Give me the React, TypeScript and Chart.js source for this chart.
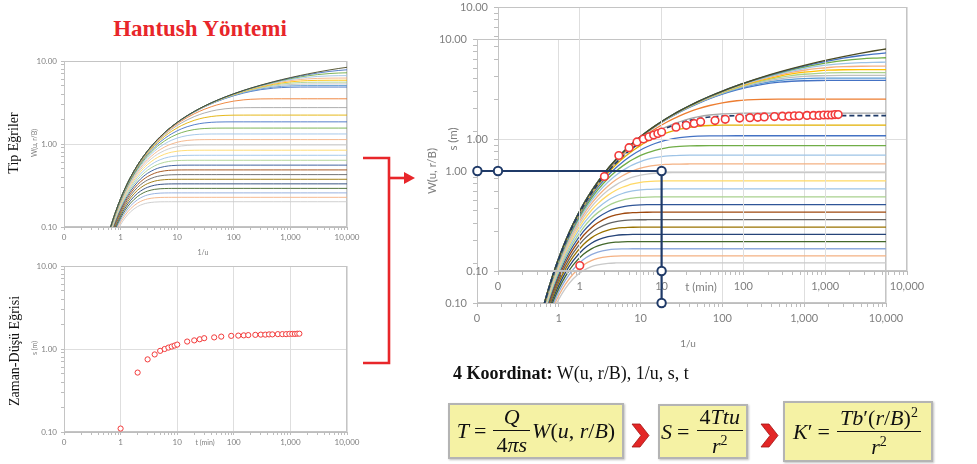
import React, { useEffect, useRef } from "react";
import { Chart, registerables } from "chart.js";

Chart.register(...registerables);
Chart.defaults.font.family = "Lato";

// ---------------- data ----------------
// 1/u sample points of the type-curve table
const invU = [0.5, 0.6, 0.7, 0.8, 0.9, 1, 1.2, 1.5, 2, 2.5, 3, 4, 5, 6, 7, 8, 10, 12, 15, 20, 25, 30, 40, 50, 70, 100, 150, 200, 300, 500, 700, 1000, 1500, 2000, 3000, 5000, 7000, 10000];
// r/B parameter of each type curve (read from the plateau levels)
const rOverB = [0.01, 0.02, 0.03, 0.04, 0.05, 0.06, 0.07, 0.08, 0.09, 0.1, 0.2, 0.3, 0.4, 0.5, 0.6, 0.7, 0.8, 0.9, 1.0, 1.1, 1.2, 1.3, 1.4, 1.5, 1.6, 1.7, 1.8, 1.9, 2.0, 2.1];
// matched (dashed) type curve
const matchedRB = 0.32;
// time-drawdown data
const timeMin = [1, 2, 3, 4, 5, 6, 7, 8, 9, 10, 15, 20, 25, 30, 45, 60, 90, 120, 150, 180, 240, 300, 360, 420, 480, 600, 720, 840, 960, 1080, 1200, 1320, 1440];
const drawdownM = [0.11, 0.52, 0.75, 0.86, 0.95, 1.0, 1.04, 1.07, 1.1, 1.13, 1.23, 1.27, 1.31, 1.35, 1.38, 1.41, 1.44, 1.45, 1.46, 1.47, 1.48, 1.49, 1.49, 1.5, 1.5, 1.51, 1.51, 1.51, 1.52, 1.52, 1.52, 1.53, 1.53];
// match point construction (t, s coordinates)
const matchT = [0.056, 0.1, 10, 10, 10];
const matchS = [0.572, 0.572, 0.572, 0.1, 0.0572];
// tick labels
const xTickValues = [0.1, 1, 10, 100, 1000, 10000];
const xTickLabels = ["0", "1", "10", "100", "1,000", "10,000"];
const yTickValues = [0.1, 1, 10];
const yTickLabels = ["0.10", "1.00", "10.00"];

// ---------------- styles ----------------
const curveColors = [
  "#4a4a22", "#4472C4", "#70AD47", "#9DC3E6", "#F4B183", "#FFC000", "#A9D18E", "#BFBFBF", "#5B9BD5", "#4472C4",
  "#ED7D31", "#A5A5A5", "#E2B000", "#4472C4", "#70AD47", "#9DC3E6", "#F4B183", "#C9C9C9", "#FFD966", "#9DC3E6",
  "#A9D18E", "#2F5597", "#9E480E", "#636363", "#997300", "#264478", "#43682B", "#8FAADC", "#F4B183", "#C9C9C9",
];
const NAVY = "#1f3a68";
const RED = "#f23a3a";
const TICK_COLOR = "#7f7f7f";

// Hantush leaky well function W(u, r/B)
function wellFunction(u: number, rb: number): number {
  const b2 = (rb * rb) / 4;
  const a = Math.log(u);
  const end = Math.log(50);
  if (a >= end) return 0;
  const n = Math.ceil((end - a) / 0.004);
  const h = (end - a) / n;
  let sum = 0;
  for (let i = 0; i <= n; i++) {
    const y = Math.exp(a + i * h);
    const f = Math.exp(-y - b2 / y);
    sum += i === 0 || i === n ? f / 2 : f;
  }
  return sum * h;
}

const typeCurves = rOverB.map((rb) => invU.map((x) => ({ x, y: wellFunction(1 / x, rb) })));
const matchedCurve = invU.map((x) => ({ x, y: wellFunction(1 / x, matchedRB) }));
const dataPoints = timeMin.map((t, i) => ({ x: t, y: drawdownM[i] }));
const matchPoints = matchT.map((t, i) => ({ x: t, y: matchS[i] }));

// ---------------- helpers ----------------
const isMajor = (v: number) => v > 0 && Math.abs(Math.log10(v) - Math.round(Math.log10(v))) < 1e-7;
const findLabel = (v: number, vals: number[], labels: string[]) => {
  for (let i = 0; i < vals.length; i++) if (Math.abs(vals[i] - v) / vals[i] < 1e-6) return labels[i];
  return "";
};
function logTicks(min: number, max: number) {
  const out: { value: number }[] = [];
  const e0 = Math.round(Math.log10(min));
  const e1 = Math.round(Math.log10(max));
  for (let e = e0; e < e1; e++) for (let k = 1; k < 10; k++) out.push({ value: k * Math.pow(10, e) });
  out.push({ value: max });
  return out;
}

function logAxis(o: { axis: "x" | "y"; min: number; max: number; vals: number[]; labels: string[]; font: number; tickLen: number; pad: number; size: number }) {
  return {
    type: "logarithmic" as const,
    position: o.axis === "x" ? "bottom" : "left",
    min: o.min,
    max: o.max,
    afterBuildTicks: (scale: any) => {
      scale.ticks = logTicks(o.min, o.max);
    },
    afterFit: (scale: any) => {
      if (o.axis === "x") scale.height = o.size;
      else scale.width = o.size;
    },
    ticks: {
      autoSkip: false,
      maxRotation: 0,
      minRotation: 0,
      padding: o.pad,
      color: TICK_COLOR,
      font: { family: "Lato", size: o.font },
      callback: (v: any) => (isMajor(Number(v)) ? findLabel(Number(v), o.vals, o.labels) : ""),
    },
    grid: {
      color: (c: any) => (c.tick && isMajor(c.tick.value) ? "#dedede" : "rgba(0,0,0,0)"),
      tickColor: "#bdbdbd",
      tickLength: o.tickLen,
      drawTicks: true,
      lineWidth: 1,
    },
    border: { color: "#bdbdbd", width: 1 },
  };
}

const framePlugin = {
  id: "frame",
  beforeDatasetsDraw(chart: any) {
    const { ctx, chartArea: a } = chart;
    ctx.save();
    ctx.strokeStyle = "#c4c4c4";
    ctx.lineWidth = 1;
    ctx.strokeRect(Math.round(a.left) + 0.5, Math.round(a.top) + 0.5, Math.round(a.width) - 1, Math.round(a.height) - 1);
    ctx.restore();
  },
};

// draws the markers of the match-point construction (dataset 0), also where they sit outside the plot area
const matchMarkerPlugin = {
  id: "matchMarkers",
  afterDatasetsDraw(chart: any) {
    const meta = chart.getDatasetMeta(0);
    const ctx = chart.ctx;
    ctx.save();
    meta.data.forEach((el: any) => {
      ctx.beginPath();
      ctx.arc(el.x, el.y, 4.2, 0, Math.PI * 2);
      ctx.fillStyle = "#ffffff";
      ctx.fill();
      ctx.lineWidth = 2;
      ctx.strokeStyle = NAVY;
      ctx.stroke();
    });
    ctx.restore();
  },
};

function baseOptions(padding: any, x: any, y: any) {
  return {
    responsive: false,
    animation: false as const,
    events: [] as any[],
    layout: { padding },
    plugins: { legend: { display: false }, tooltip: { enabled: false }, title: { display: false } },
    scales: { x, y },
  };
}

function curveDatasets(width: number) {
  return typeCurves.map((pts, i) => ({
    data: pts,
    borderColor: curveColors[i % curveColors.length],
    borderWidth: width,
    pointRadius: 0,
    fill: false,
    cubicInterpolationMode: "monotone" as const,
  }));
}

function ChartBox({ left, top, width, height, build }: { left: number; top: number; width: number; height: number; build: () => any }) {
  const ref = useRef<HTMLCanvasElement>(null);
  useEffect(() => {
    const chart = new Chart(ref.current as HTMLCanvasElement, build());
    return () => chart.destroy();
  }, []);
  return <canvas ref={ref} width={width} height={height} style={{ position: "absolute", left, top, width, height }} />;
}

function Txt({ x, y, rot = 0, style, children }: { x: number; y: number; rot?: number; style?: React.CSSProperties; children: React.ReactNode }) {
  return (
    <div
      style={{
        position: "absolute",
        left: x,
        top: y,
        transform: `translate(-50%, -50%) rotate(${rot}deg)`,
        whiteSpace: "nowrap",
        lineHeight: 1,
        ...style,
      }}
    >
      {children}
    </div>
  );
}

// ---------------- chart configs ----------------
const smallX = (size: number) => logAxis({ axis: "x", min: 0.1, max: 10000, vals: xTickValues, labels: xTickLabels, font: 8, tickLen: 3, pad: 3, size });
const smallY = (size: number) => logAxis({ axis: "y", min: 0.1, max: 10, vals: yTickValues, labels: yTickLabels, font: 8, tickLen: 3, pad: 4, size });
const bigX = (size: number) => logAxis({ axis: "x", min: 0.1, max: 10000, vals: xTickValues, labels: xTickLabels, font: 11, tickLen: 4, pad: 5, size });
const bigY = (size: number) => logAxis({ axis: "y", min: 0.1, max: 10, vals: yTickValues, labels: yTickLabels, font: 11, tickLen: 4, pad: 6, size });

const buildTypeSmall = () => ({
  type: "line",
  data: { datasets: curveDatasets(0.9) },
  options: baseOptions({ left: 0, top: 11, right: 23, bottom: 0 }, smallX(23), smallY(44)),
  plugins: [framePlugin],
});

const buildDataSmall = () => ({
  type: "line",
  data: {
    datasets: [
      {
        data: dataPoints,
        showLine: false,
        pointRadius: 2.6,
        pointBorderWidth: 1,
        pointBorderColor: RED,
        pointBackgroundColor: "#ffffff",
      },
    ],
  },
  options: baseOptions({ left: 0, top: 11, right: 23, bottom: 0 }, smallX(23), smallY(44)),
  plugins: [framePlugin],
});

const buildTypeBig = () => ({
  type: "line",
  data: {
    datasets: [
      {
        data: matchedCurve,
        borderColor: NAVY,
        borderWidth: 1.6,
        borderDash: [5, 3],
        pointRadius: 0,
        fill: false,
        cubicInterpolationMode: "monotone" as const,
      },
      ...curveDatasets(1.3),
    ],
  },
  options: baseOptions({ left: 0, top: 19, right: 54, bottom: 0 }, bigX(37), bigY(57)),
  plugins: [framePlugin],
});

const buildDataBig = () => ({
  type: "line",
  data: {
    datasets: [
      {
        data: matchPoints,
        borderColor: NAVY,
        borderWidth: 2.2,
        pointRadius: 0,
        clip: false,
        tension: 0,
      },
      {
        data: dataPoints,
        showLine: false,
        pointRadius: 3.8,
        pointBorderWidth: 1.6,
        pointBorderColor: RED,
        pointBackgroundColor: "#ffffff",
      },
    ],
  },
  options: baseOptions({ left: 0, top: 17, right: 33, bottom: 0 }, bigX(69), bigY(78)),
  plugins: [framePlugin, matchMarkerPlugin],
});

// ---------------- formula pieces ----------------
const SERIF = "'Liberation Serif', 'DejaVu Serif', serif";

function Frac({ num, den }: { num: React.ReactNode; den: React.ReactNode }) {
  return (
    <span style={{ display: "inline-flex", flexDirection: "column", alignItems: "center", margin: "0 2px" }}>
      <span style={{ lineHeight: 1, padding: "0 3px 2px" }}>{num}</span>
      <span style={{ lineHeight: 1, padding: "3px 3px 0", borderTop: "1.5px solid #111", alignSelf: "stretch", textAlign: "center" }}>{den}</span>
    </span>
  );
}

const I = ({ children }: { children: React.ReactNode }) => <i>{children}</i>;

function FormulaBox({ left, top, width, height, children }: { left: number; top: number; width: number; height: number; children: React.ReactNode }) {
  return (
    <div
      style={{
        position: "absolute",
        left,
        top,
        width,
        height,
        boxSizing: "border-box",
        background: "#f5f2a4",
        border: "2px solid #b4b4b4",
        boxShadow: "1px 1px 2px rgba(0,0,0,0.25)",
        display: "flex",
        alignItems: "center",
        justifyContent: "center",
        fontFamily: SERIF,
        fontSize: 22,
        color: "#111",
      }}
    >
      {children}
    </div>
  );
}

const Eq = () => <span style={{ margin: "0 5px" }}>=</span>;

function Chevron({ x }: { x: number }) {
  const y0 = 424;
  const y1 = 447;
  const ym = (y0 + y1) / 2;
  return (
    <polygon
      points={`${x},${y0} ${x + 8},${y0} ${x + 17},${ym} ${x + 8},${y1} ${x},${y1} ${x + 9},${ym}`}
      fill="#e32626"
      stroke="#a31414"
      strokeWidth={0.8}
    />
  );
}

export default function App() {
  const gray: React.CSSProperties = { color: TICK_COLOR, fontFamily: "Lato" };
  return (
    <div style={{ position: "fixed", left: 0, top: 0, width: 977, height: 464, background: "#fff", overflow: "hidden" }}>
      {/* left charts */}
      <ChartBox left={20} top={50} width={350} height={200} build={buildTypeSmall} />
      <ChartBox left={20} top={255} width={350} height={200} build={buildDataSmall} />
      {/* right overlapped charts */}
      <ChartBox left={420} top={20} width={520} height={320} build={buildTypeBig} />
      <ChartBox left={420} top={-10} width={520} height={350} build={buildDataBig} />

      {/* titles */}
      <Txt x={200} y={28} style={{ fontFamily: SERIF, fontWeight: 700, fontSize: 23, color: "#e8262a" }}>
        Hantush Yöntemi
      </Txt>
      <Txt x={14} y={143} rot={-90} style={{ fontFamily: SERIF, fontSize: 14, color: "#111" }}>
        Tip Eğriler
      </Txt>
      <Txt x={15} y={351} rot={-90} style={{ fontFamily: SERIF, fontSize: 14, color: "#111" }}>
        Zaman-Düşü Eğrisi
      </Txt>
      <Txt x={34} y={143} rot={-90} style={{ ...gray, fontSize: 7 }}>
        W(u, r/B)
      </Txt>
      <Txt x={203} y={252} style={{ ...gray, fontSize: 7 }}>
        1/u
      </Txt>
      <Txt x={34} y={348} rot={-90} style={{ ...gray, fontSize: 7 }}>
        s (m)
      </Txt>
      <Txt x={205} y={442} style={{ ...gray, fontSize: 7 }}>
        t (min)
      </Txt>

      <Txt x={432} y={171} rot={-90} style={{ ...gray, fontSize: 11.5 }}>
        W(u, r/B)
      </Txt>
      <Txt x={453} y={139} rot={-90} style={{ ...gray, fontSize: 11.5 }}>
        s (m)
      </Txt>
      <Txt x={701} y={287} style={{ ...gray, fontSize: 11.5 }}>
        t (min)
      </Txt>
      <Txt x={688} y={343} style={{ ...gray, fontSize: 10 }}>
        1/u
      </Txt>

      {/* bracket arrow and chevrons */}
      <svg width={977} height={464} style={{ position: "absolute", left: 0, top: 0, pointerEvents: "none" }}>
        <path d="M363 158 H389 V363 H363" fill="none" stroke="#e8262a" strokeWidth={2.6} />
        <path d="M389 178 H406" fill="none" stroke="#e8262a" strokeWidth={2.6} />
        <polygon points="404,172 415,178 404,184" fill="#e8262a" />
        <Chevron x={632} />
        <Chevron x={761} />
      </svg>

      {/* 4 Koordinat */}
      <div style={{ position: "absolute", left: 453, top: 364, fontFamily: SERIF, fontSize: 18, lineHeight: 1, color: "#111", whiteSpace: "nowrap" }}>
        <b>4 Koordinat:</b> W(u, r/B), 1/u, s, t
      </div>

      {/* formulas */}
      <FormulaBox left={448} top={403} width={176} height={56}>
        <I>T</I>
        <Eq />
        <Frac num={<I>Q</I>} den={<span>4<i>πs</i></span>} />
        <span>
          <I>W</I>(<I>u</I>, <I>r</I>/<I>B</I>)
        </span>
      </FormulaBox>
      <FormulaBox left={658} top={404} width={90} height={55}>
        <I>S</I>
        <Eq />
        <Frac num={<span>4<i>Ttu</i></span>} den={<span><i>r</i><sup style={{ fontSize: 14 }}>2</sup></span>} />
      </FormulaBox>
      <FormulaBox left={783} top={401} width={150} height={61}>
        <span>
          <I>K</I>′
        </span>
        <Eq />
        <Frac
          num={
            <span>
              <i>Tb</i>′(<i>r</i>/<i>B</i>)<sup style={{ fontSize: 14 }}>2</sup>
            </span>
          }
          den={
            <span>
              <i>r</i>
              <sup style={{ fontSize: 14 }}>2</sup>
            </span>
          }
        />
      </FormulaBox>
    </div>
  );
}
